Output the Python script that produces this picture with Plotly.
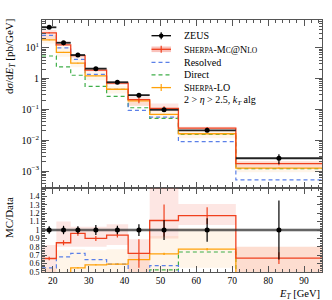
import plotly.graph_objects as go

# ---------------- data ----------------
edges = [17, 21, 25, 29, 35, 41, 47, 55, 71, 95]
centers = [19, 23, 27, 32, 38, 44, 51, 63, 83]

zeus = [46, 14.5, 5.8, 2.1, 0.76, 0.29, 0.097, 0.021, 0.0026]
zeus_rel_err = [0.045, 0.05, 0.045, 0.06, 0.05, 0.07, 0.12, 0.14, 0.35]

mcnlo = [30.4, 12.3, 5.57, 1.89, 0.714, 0.209, 0.108, 0.0246, 0.00173]
mcnlo_rel_err = [0.02, 0.03, 0.03, 0.03, 0.03, 0.17, 0.19, 0.10, 0.07]
mcnlo_band_hi = [0.82, 1.10, 1.04, 1.04, 1.07, 0.89, 1.60, 1.31, 0.80]
mcnlo_band_lo = [0.40, 0.80, 0.80, 0.80, 0.82, 0.45, 0.90, 1.06, 0.45]

lo = [17.9, 7.1, 3.19, 1.23, 0.451, 0.188, 0.0694, 0.0162, 0.00125]
lo_rel_err = [0.01, 0.01, 0.01, 0.01, 0.015, 0.02, 0.02, 0.02, 0.02]
lo_band_hi = [0.55, 0.76, 0.77, 0.76, 0.77, 0.73, 0.93, 1.02, 0.80]
lo_band_lo = [0.30, 0.35, 0.40, 0.42, 0.43, 0.45, 0.50, 0.55, 0.35]

resolved = [25.3, 9.86, 4.18, 1.36, 0.451, 0.093, 0.0558, 0.009, 0.00052]
direct = [5.4, 2.39, 1.28, 0.56, 0.265, 0.113, 0.051, 0.0155, 0.0012]

upper_ticks = [1e-3, 1e-2, 1e-1, 1, 10]
upper_ticktext = ["10<sup>\u22123</sup>", "10<sup>\u22122</sup>", "10<sup>\u22121</sup>", "1", "10<sup>1</sup>"]
ratio_ticks = [0.5, 0.6, 0.7, 0.8, 0.9, 1.0, 1.1, 1.2, 1.3, 1.4]
ratio_ticktext = ["0.5", "0.6", "0.7", "0.8", "0.9", "1", "1.1", "1.2", "1.3", "1.4"]
x_ticks = [20, 30, 40, 50, 60, 70, 80, 90]

# ---------------- styles ----------------
RED = "#f0401e"
PINK = "rgba(240,80,60,0.14)"
ORANGE = "#ffa10a"
LORANGE = "rgba(255,175,70,0.12)"
BLUE = "#5b80e8"
GREEN = "#3fae49"
FONT = "Liberation Serif"
AX = "#555555"

fig = go.Figure()


def step(vals):
    return list(edges), list(vals) + [vals[-1]]


def band(hi, lo_):
    bx, by = [], []
    for i in range(len(hi)):
        bx += [edges[i], edges[i + 1]]
        by += [hi[i], hi[i]]
    for i in reversed(range(len(lo_))):
        bx += [edges[i + 1], edges[i]]
        by += [lo_[i], lo_[i]]
    return bx, by


ratio_nlo = [m / d for m, d in zip(mcnlo, zeus)]
ratio_lo = [m / d for m, d in zip(lo, zeus)]
ratio_res = [m / d for m, d in zip(resolved, zeus)]
ratio_dir = [m / d for m, d in zip(direct, zeus)]

for panel, (xa, ya) in enumerate([("x", "y"), ("x2", "y2")]):
    if panel == 0:
        scale = zeus
        vals = dict(nlo=mcnlo, lo=lo, res=resolved, dir=direct, data=zeus)
    else:
        scale = [1.0] * len(zeus)
        vals = dict(nlo=ratio_nlo, lo=ratio_lo, res=ratio_res, dir=ratio_dir, data=[1.0] * len(zeus))
    # bands
    bx, by = band([h * s for h, s in zip(lo_band_hi, scale)], [l * s for l, s in zip(lo_band_lo, scale)])
    fig.add_trace(go.Scatter(x=bx, y=by, fill="toself", fillcolor=LORANGE, line=dict(width=0),
                             mode="lines", xaxis=xa, yaxis=ya, showlegend=False, hoverinfo="skip"))
    bx, by = band([h * s for h, s in zip(mcnlo_band_hi, scale)], [l * s for l, s in zip(mcnlo_band_lo, scale)])
    fig.add_trace(go.Scatter(x=bx, y=by, fill="toself", fillcolor=PINK, line=dict(width=0),
                             mode="lines", xaxis=xa, yaxis=ya, showlegend=False, hoverinfo="skip"))
    # dashed components
    for key, col in [("dir", GREEN), ("res", BLUE)]:
        sx, sy = step(vals[key])
        fig.add_trace(go.Scatter(x=sx, y=sy, mode="lines", line=dict(color=col, width=1.2, dash="4px,3px", shape="hv"),
                                 xaxis=xa, yaxis=ya, showlegend=False))
    # LO
    sx, sy = step(vals["lo"])
    fig.add_trace(go.Scatter(x=sx, y=sy, mode="lines", line=dict(color=ORANGE, width=1.3, shape="hv"),
                             xaxis=xa, yaxis=ya, showlegend=False))
    fig.add_trace(go.Scatter(x=centers, y=vals["lo"], mode="markers", marker=dict(size=1, color=ORANGE),
                             error_y=dict(type="data", array=[e * v for e, v in zip(lo_rel_err, vals["lo"])],
                                          color=ORANGE, thickness=1.2, width=0),
                             xaxis=xa, yaxis=ya, showlegend=False))
    # MC@NLO
    sx, sy = step(vals["nlo"])
    fig.add_trace(go.Scatter(x=sx, y=sy, mode="lines", line=dict(color=RED, width=1.3, shape="hv"),
                             xaxis=xa, yaxis=ya, showlegend=False))
    fig.add_trace(go.Scatter(x=centers, y=vals["nlo"], mode="markers", marker=dict(size=1, color=RED),
                             error_y=dict(type="data", array=[e * s for e, s in zip(mcnlo_rel_err, scale)],
                                          color=RED, thickness=1.2, width=0),
                             xaxis=xa, yaxis=ya, showlegend=False))
    # data
    if panel == 1:
        fig.add_trace(go.Scatter(x=[edges[0], edges[-1]], y=[1, 1], mode="lines",
                                 line=dict(color="rgba(60,60,60,0.45)", width=3),
                                 xaxis=xa, yaxis=ya, showlegend=False))
        fig.add_trace(go.Scatter(x=[edges[0], edges[-1]], y=[1, 1], mode="lines",
                                 line=dict(color="#222222", width=1),
                                 xaxis=xa, yaxis=ya, showlegend=False))
    fig.add_trace(go.Scatter(
        x=centers, y=vals["data"], mode="markers",
        marker=dict(size=5, color="black"),
        error_y=dict(type="data", array=[e * v for e, v in zip(zeus_rel_err, vals["data"])],
                     color="black", thickness=1.2, width=0),
        error_x=dict(type="data", array=[(edges[i + 1] - edges[i]) / 2 for i in range(len(centers))],
                     color="#222222" if panel == 0 else "rgba(0,0,0,0)", thickness=1.8, width=0),
        xaxis=xa, yaxis=ya, showlegend=False))

axis_common = dict(showline=True, linecolor=AX, linewidth=1, mirror="allticks", ticks="inside",
                   tickcolor=AX, zeroline=False, showgrid=False)

fig.update_layout(
    width=332, height=300,
    margin=dict(l=42, r=10, t=20, b=28),
    paper_bgcolor="white", plot_bgcolor="white",
    font=dict(family=FONT, size=10, color="black"),
    xaxis=dict(**axis_common, anchor="y", domain=[0, 1], range=[17, 95], tickvals=x_ticks,
               showticklabels=False, ticklen=6,
               minor=dict(ticks="inside", ticklen=3, dtick=2, tickcolor=AX, showgrid=False)),
    xaxis2=dict(**axis_common, anchor="y2", domain=[0, 1], range=[17, 95], matches="x", tickvals=x_ticks,
                ticklen=6, tickfont=dict(family=FONT, size=9.5, color="black"),
                minor=dict(ticks="inside", ticklen=3, dtick=2, tickcolor=AX, showgrid=False)),
    yaxis=dict(**axis_common, anchor="x", domain=[0.3333, 1], type="log", range=[-3.55, 1.9],
               tickvals=upper_ticks, ticktext=upper_ticktext, ticklen=7,
               tickfont=dict(family=FONT, size=10, color="black"),
               minor=dict(ticks="inside", ticklen=3.5, dtick="D1", tickcolor=AX, showgrid=False)),
    yaxis2=dict(**axis_common, anchor="x2", domain=[0, 0.3333], range=[0.5, 1.5],
                tickvals=ratio_ticks, ticktext=ratio_ticktext, ticklen=5,
                tickfont=dict(family=FONT, size=8, color="black"),
                minor=dict(ticks="inside", ticklen=2.5, dtick=0.02, tickcolor=AX, showgrid=False)),
)


# positions below are given in window pixels of the target picture
def px(x):
    return (x - 42) / 280


def py(y):
    return (272 - y) / 252


# axis titles
fig.add_annotation(xref="paper", yref="paper", x=px(10), y=py(57), textangle=-90,
                   text="d<i>\u03c3</i>/d<i>E</i><sub><i>T</i></sub> [pb/GeV]", showarrow=False,
                   font=dict(family=FONT, size=11), xanchor="center", yanchor="middle")
fig.add_annotation(xref="paper", yref="paper", x=px(9), y=py(218), textangle=-90,
                   text="MC/Data", showarrow=False,
                   font=dict(family=FONT, size=11), xanchor="center", yanchor="middle")
fig.add_annotation(xref="paper", yref="paper", x=1, y=py(286),
                   text="<i>E</i><sub><i>T</i></sub> [GeV]", showarrow=False,
                   font=dict(family=FONT, size=10.5), xanchor="right", yanchor="top")

# legend (manual)
x0, x1, xc, xt = 151.5, 171, 161.2, 181.5
rows = [35.7, 49.3, 62.3, 74.8, 87.6, 100.2]
sm = "font-size:7.5px"
labels = [
    "ZEUS",
    f"S<span style='{sm}'>HERPA</span>-M<span style='{sm}'>C</span>@N<span style='{sm}'>LO</span>",
    "Resolved",
    "Direct",
    f"S<span style='{sm}'>HERPA</span>-LO",
    "2 > <i>\u03b7</i> > 2.5, <i>k</i><sub><i>T</i></sub> alg",
]
for r, lab in zip(rows, labels):
    fig.add_annotation(xref="paper", yref="paper", x=px(xt), y=py(r), text=lab, showarrow=False,
                       xanchor="left", yanchor="middle", font=dict(family=FONT, size=10))

# ZEUS symbol
fig.add_shape(type="line", xref="paper", yref="paper", x0=px(x0), x1=px(x1), y0=py(rows[0]), y1=py(rows[0]),
              line=dict(color="black", width=1.3))
fig.add_shape(type="line", xref="paper", yref="paper", x0=px(xc), x1=px(xc), y0=py(rows[0] - 3.5), y1=py(rows[0] + 3.5),
              line=dict(color="black", width=1.2))
fig.add_shape(type="circle", xref="paper", yref="paper", x0=px(xc - 2.3), x1=px(xc + 2.3),
              y0=py(rows[0] - 2.3), y1=py(rows[0] + 2.3), fillcolor="black", line=dict(width=0))
# MC@NLO symbol
fig.add_shape(type="rect", xref="paper", yref="paper", x0=px(x0), x1=px(x1), y0=py(rows[1] - 2.8), y1=py(rows[1] + 2.8),
              fillcolor="rgba(240,80,60,0.35)", line=dict(width=0))
fig.add_shape(type="line", xref="paper", yref="paper", x0=px(x0), x1=px(x1), y0=py(rows[1]), y1=py(rows[1]),
              line=dict(color=RED, width=1.3))
fig.add_shape(type="line", xref="paper", yref="paper", x0=px(xc), x1=px(xc), y0=py(rows[1] - 3.5), y1=py(rows[1] + 3.5),
              line=dict(color=RED, width=1.2))
# Resolved / Direct
for r, col in [(rows[2], BLUE), (rows[3], GREEN)]:
    fig.add_shape(type="line", xref="paper", yref="paper", x0=px(x0), x1=px(x1), y0=py(r), y1=py(r),
                  line=dict(color=col, width=1.2, dash="4px,3px"))
# LO
fig.add_shape(type="line", xref="paper", yref="paper", x0=px(x0), x1=px(x1), y0=py(rows[4]), y1=py(rows[4]),
              line=dict(color=ORANGE, width=1.3))
fig.add_shape(type="line", xref="paper", yref="paper", x0=px(xc), x1=px(xc), y0=py(rows[4] - 3.5), y1=py(rows[4] + 3.5),
              line=dict(color=ORANGE, width=1.2))

# remove the browser's default 8px page margin so the figure sits at the window origin
fig.write_html("out.html", config={"displayModeBar": False},
               post_script="document.body.style.margin='0';")
